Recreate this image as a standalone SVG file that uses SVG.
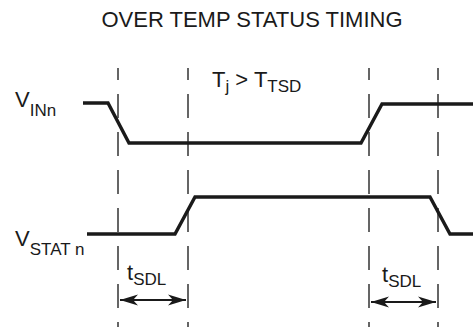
<svg xmlns="http://www.w3.org/2000/svg" width="473" height="327" viewBox="0 0 473 327">
<style>
text{font-family:"Liberation Sans",Arial,sans-serif;fill:#1a1a1a}
.t{font-size:22px}
.m{font-size:22px}
.s{font-size:17px}
.wave{fill:none;stroke:#1a1a1a;stroke-width:3.4;stroke-linejoin:miter}
.dash{stroke:#333;stroke-width:1.5;stroke-dasharray:24 14;stroke-dashoffset:12}
.dim{stroke:#1a1a1a;stroke-width:2.2;marker-start:url(#ah);marker-end:url(#ah)}
</style>
<defs>
<marker id="ah" markerUnits="userSpaceOnUse" markerWidth="19" markerHeight="12" refX="18" refY="6" orient="auto-start-reverse">
<path d="M0,0.5 L18,6 L0,11.5 L5,6 Z" fill="#1a1a1a"/>
</marker>
</defs>
<rect width="473" height="327" fill="#fff"/>
<g id="title"><text class="t" x="252" y="27" text-anchor="middle">OVER TEMP STATUS TIMING</text></g>
<g id="connectors">
<line class="dash" x1="118" y1="68" x2="118" y2="327"/>
<line class="dash" x1="188" y1="68" x2="188" y2="327"/>
<line class="dash" x1="369" y1="68" x2="369" y2="327"/>
<line class="dash" x1="438" y1="68" x2="438" y2="327"/>
<line class="dim" x1="120" y1="300" x2="186" y2="300"/>
<line class="dim" x1="371" y1="302" x2="436" y2="302"/>
</g>
<g id="vin">
<polyline class="wave" points="83,103 108,103 129,143 361,143 382,104 473,104"/>
<text x="15" y="107"><tspan class="m">V</tspan><tspan class="s" dy="9">INn</tspan></text>
</g>
<g id="vstat">
<polyline class="wave" points="87,234 175,234 195,197 430,197 450,234 473,234"/>
<text x="15" y="246"><tspan class="m">V</tspan><tspan class="s" dy="9">STAT n</tspan></text>
</g>
<g id="tj">
<text x="212" y="87"><tspan class="m">T</tspan><tspan class="s" dy="5">j</tspan><tspan class="m" dy="-5"> &gt; T</tspan><tspan class="s" dy="5">TSD</tspan></text>
</g>
<g id="tsdl1">
<text x="127" y="280"><tspan class="m">t</tspan><tspan class="s" dy="5">SDL</tspan></text>
</g>
<g id="tsdl2">
<text x="382" y="282"><tspan class="m">t</tspan><tspan class="s" dy="5">SDL</tspan></text>
</g>
</svg>
